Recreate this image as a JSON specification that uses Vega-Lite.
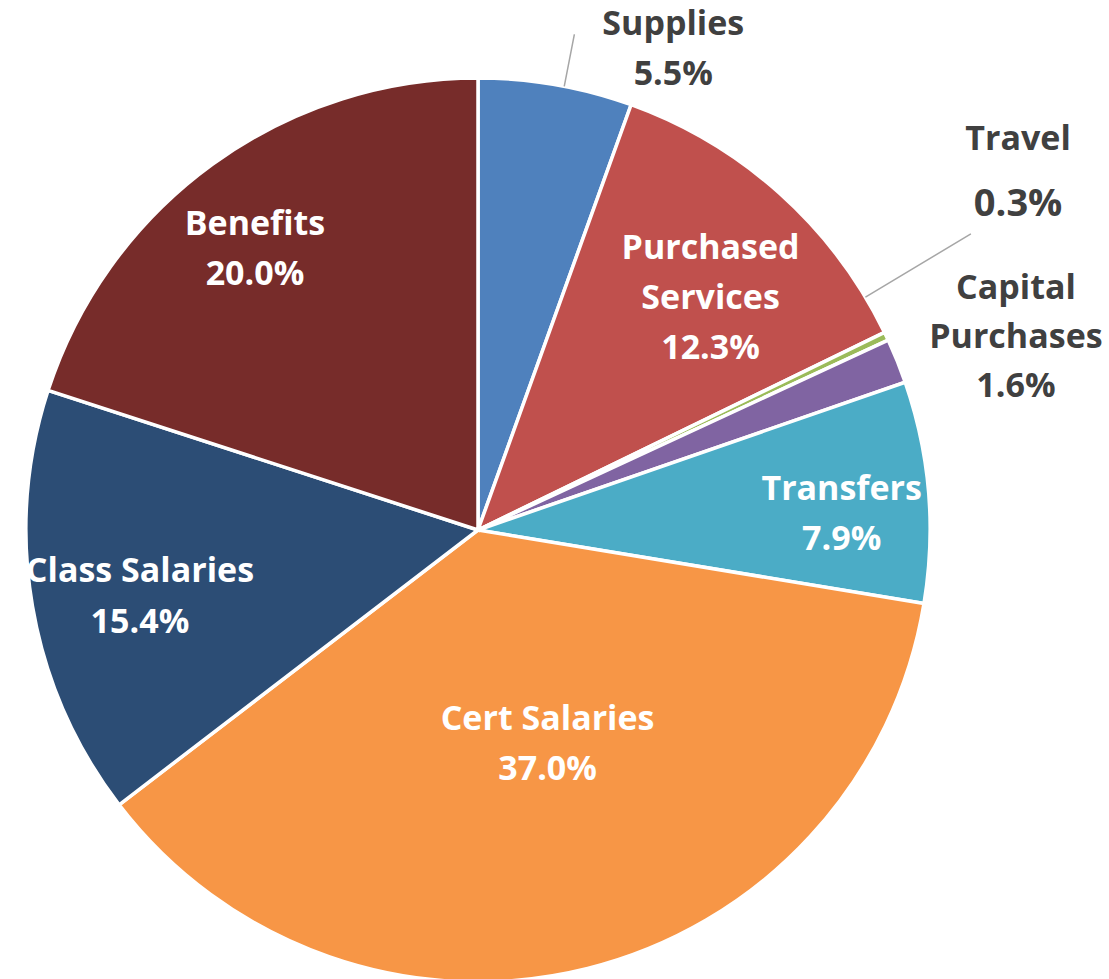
{
  "$schema": "https://vega.github.io/schema/vega-lite/v6.json",
  "width": 1109,
  "height": 979,
  "autosize": "none",
  "padding": 0,
  "background": "white",
  "config": {"view": {"stroke": null}},
  "data": {
    "values": [
      {"i": 1, "category": "Supplies", "name": "Supplies", "share": 5.5},
      {"i": 2, "category": "Purchased Services", "name": "Purchased\nServices", "share": 12.3},
      {"i": 3, "category": "Travel", "name": "Travel", "share": 0.3},
      {"i": 4, "category": "Capital Purchases", "name": "Capital\nPurchases", "share": 1.6},
      {"i": 5, "category": "Transfers", "name": "Transfers", "share": 7.9},
      {"i": 6, "category": "Cert Salaries", "name": "Cert Salaries", "share": 37.0},
      {"i": 7, "category": "Class Salaries", "name": "Class Salaries", "share": 15.4},
      {"i": 8, "category": "Benefits", "name": "Benefits", "share": 20.0}
    ]
  },
  "transform": [
    {"calculate": "format(datum.share, '.1f') + '%'", "as": "pct"},
    {"calculate": "datum.name + '\\n' + datum.pct", "as": "label"},
    {"stack": "share", "groupby": [], "sort": [{"field": "i", "order": "ascending"}], "as": ["s0", "s1"]}
  ],
  "encoding": {
    "theta": {"field": "share", "type": "quantitative", "stack": true},
    "order": {"field": "i", "type": "quantitative"},
    "detail": {"field": "category", "type": "nominal"},
    "x": {"value": 478},
    "y": {"value": 530}
  },
  "layer": [
    {
      "mark": {"type": "arc", "outerRadius": 452, "stroke": "white", "strokeWidth": 3.5},
      "encoding": {
        "color": {
          "field": "category",
          "type": "nominal",
          "legend": null,
          "scale": {
            "domain": ["Supplies", "Purchased Services", "Travel", "Capital Purchases", "Transfers", "Cert Salaries", "Class Salaries", "Benefits"],
            "range": ["#4F81BD", "#C0504D", "#9BBB59", "#8064A2", "#4BACC6", "#F79646", "#2C4D75", "#772C2A"]
          }
        }
      }
    },
    {
      "mark": {"type": "arc", "outerRadius": 505, "innerRadius": 452, "thetaOffset": 0.19199, "theta2Offset": 0.19199, "fill": "transparent", "stroke": "#A6A6A6", "strokeWidth": 1.5},
      "encoding": {
        "theta": {"field": "s0", "type": "quantitative", "stack": null},
        "theta2": {"field": "s0"},
        "strokeOpacity": {"condition": {"test": "datum.category === 'Supplies'", "value": 1}, "value": 0}
      }
    },
    {
      "mark": {"type": "arc", "outerRadius": 575, "innerRadius": 452, "thetaOffset": -0.08867, "theta2Offset": -0.08867, "fill": "transparent", "stroke": "#A6A6A6", "strokeWidth": 1.5},
      "encoding": {
        "theta": {"field": "s0", "type": "quantitative", "stack": null},
        "theta2": {"field": "s0"},
        "strokeOpacity": {"condition": {"test": "datum.category === 'Travel'", "value": 1}, "value": 0}
      }
    },
    {
      "mark": {"type": "text", "radius": 490, "dx": 111, "dy": -22, "font": "Open Sans", "fontSize": 34, "fontWeight": "bold", "lineBreak": "\n", "lineHeight": 50, "align": "center", "baseline": "middle", "color": "#404040"},
      "encoding": {"text": {"condition": {"test": "datum.category === 'Supplies'", "field": "label"}, "value": ""}}
    },
    {
      "mark": {"type": "text", "radius": 330, "dx": 12, "dy": -36, "font": "Open Sans", "fontSize": 34, "fontWeight": "bold", "lineBreak": "\n", "lineHeight": 50, "align": "center", "baseline": "middle", "color": "white"},
      "encoding": {"text": {"condition": {"test": "datum.category === 'Purchased Services'", "field": "label"}, "value": ""}}
    },
    {
      "mark": {"type": "text", "radius": 600, "dx": -2, "dy": -133, "font": "Open Sans", "fontSize": 34, "fontWeight": "bold", "align": "center", "baseline": "middle", "color": "#404040"},
      "encoding": {"text": {"condition": {"test": "datum.category === 'Travel'", "field": "name"}, "value": ""}}
    },
    {
      "mark": {"type": "text", "radius": 600, "dx": -2, "dy": -68, "font": "Open Sans", "fontSize": 38, "fontWeight": "bold", "align": "center", "baseline": "middle", "color": "#404040"},
      "encoding": {"text": {"condition": {"test": "datum.category === 'Travel'", "field": "pct"}, "value": ""}}
    },
    {
      "mark": {"type": "text", "radius": 580, "dx": 0, "dy": -24, "font": "Open Sans", "fontSize": 34, "fontWeight": "bold", "lineBreak": "\n", "lineHeight": 49, "align": "center", "baseline": "middle", "color": "#404040"},
      "encoding": {"text": {"condition": {"test": "datum.category === 'Capital Purchases'", "field": "label"}, "value": ""}}
    },
    {
      "mark": {"type": "text", "radius": 364, "dx": 1, "dy": -9, "font": "Open Sans", "fontSize": 34, "fontWeight": "bold", "lineBreak": "\n", "lineHeight": 50, "align": "center", "baseline": "middle", "color": "white"},
      "encoding": {"text": {"condition": {"test": "datum.category === 'Transfers'", "field": "label"}, "value": ""}}
    },
    {
      "mark": {"type": "text", "radius": 225, "dx": 15, "dy": -28, "font": "Open Sans", "fontSize": 34, "fontWeight": "bold", "lineBreak": "\n", "lineHeight": 50, "align": "center", "baseline": "middle", "color": "white"},
      "encoding": {"text": {"condition": {"test": "datum.category === 'Cert Salaries'", "field": "label"}, "value": ""}}
    },
    {
      "mark": {"type": "text", "radius": 344, "dx": 1, "dy": -16, "font": "Open Sans", "fontSize": 34, "fontWeight": "bold", "lineBreak": "\n", "lineHeight": 51, "align": "center", "baseline": "middle", "color": "white"},
      "encoding": {"text": {"condition": {"test": "datum.category === 'Class Salaries'", "field": "label"}, "value": ""}}
    },
    {
      "mark": {"type": "text", "radius": 359, "dx": -12, "dy": -15, "font": "Open Sans", "fontSize": 34, "fontWeight": "bold", "lineBreak": "\n", "lineHeight": 50, "align": "center", "baseline": "middle", "color": "white"},
      "encoding": {"text": {"condition": {"test": "datum.category === 'Benefits'", "field": "label"}, "value": ""}}
    }
  ]
}
